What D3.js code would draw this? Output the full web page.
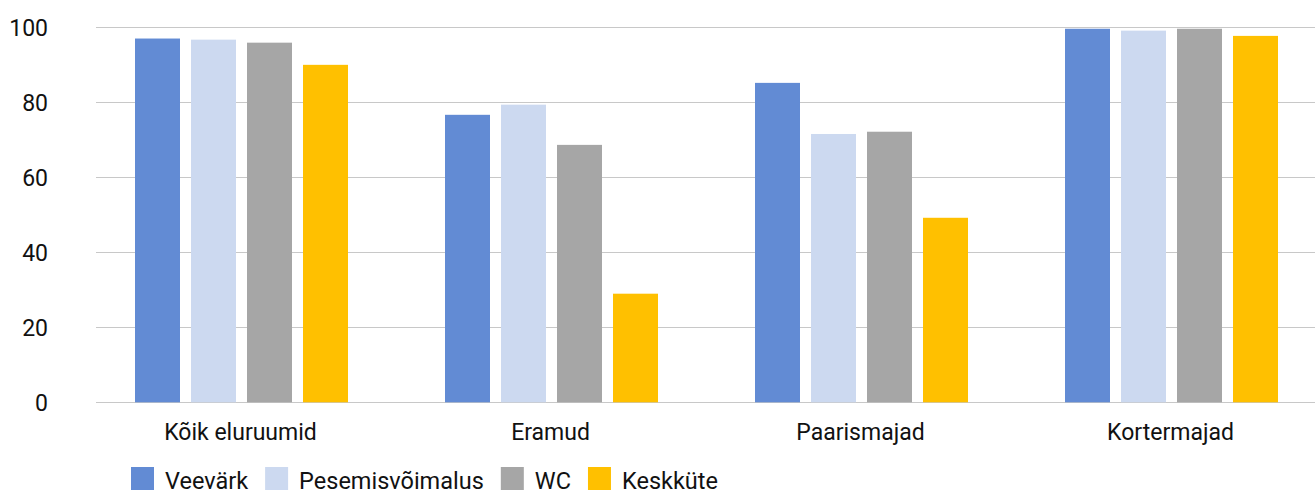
<!DOCTYPE html>
<html><head><meta charset="utf-8">
<script src="https://cdn.jsdelivr.net/npm/d3@7"></script>
<style>body{margin:0;background:#fff;}svg{display:block;font-family:Roboto,"Noto Sans",sans-serif;}</style>
</head><body>
<svg id="c" width="1315" height="493"></svg>
<script>
const categories = ["Kõik eluruumid","Eramud","Paarismajad","Kortermajad"];
const seriesNames = ["Veevärk","Pesemisvõimalus","WC","Keskküte"];
const veevark = [96.8, 76.5, 85.0, 99.4];
const pesemis = [96.5, 79.2, 71.4, 98.9];
const wc = [95.7, 68.5, 72.0, 99.4];
const keskkute = [89.8, 28.9, 49.1, 97.5];
const yTicks = [0,20,40,60,80,100];
const colors = ["#628bd4","#ccd9f0","#a6a6a6","#ffc000"];

const series = [veevark, pesemis, wc, keskkute];
const svg = d3.select("#c");
const y = d3.scaleLinear().domain([0,100]).range([402.3,26.5]);
const x0 = d3.scaleBand().domain(categories).range([86.5,1326.5]);
const x1 = d3.scaleBand().domain(seriesNames).range([0,213]).paddingInner(11/56).paddingOuter(0);
const gridL = 96, gridR = 1315;

// grid
svg.append("g").selectAll("line").data(yTicks).join("line")
  .attr("x1",gridL).attr("x2",gridR)
  .attr("y1",d=>Math.round(y(d))+0.5).attr("y2",d=>Math.round(y(d))+0.5)
  .attr("stroke","#c8c8c8").attr("stroke-width",1.2);

// y labels
svg.append("g").selectAll("text").data(yTicks).join("text")
  .attr("x",48).attr("y",d=>y(d)+1).attr("dy","0.35em")
  .attr("text-anchor","end").attr("font-size",23).attr("fill","#111")
  .text(d=>d);

// bars
const g = svg.append("g");
categories.forEach((c,ci)=>{
  const cx = x0(c) + x0.bandwidth()/2 - 106.5;
  seriesNames.forEach((s,si)=>{
    const v = series[si][ci];
    g.append("rect")
      .attr("x", cx + x1(s)).attr("width", x1.bandwidth())
      .attr("y", y(v)).attr("height", y(0)-y(v))
      .attr("fill", colors[si]);
  });
});

// x labels
svg.append("g").selectAll("text").data(categories).join("text")
  .attr("x",d=>x0(d)+x0.bandwidth()/2 - 1).attr("y",432).attr("dy","0.35em")
  .attr("text-anchor","middle").attr("font-size",23).attr("fill","#111")
  .text(d=>d);

// legend
const lg = svg.append("g");
let lx = 131;
seriesNames.forEach((s,i)=>{
  lg.append("rect").attr("x",lx).attr("y",467).attr("width",23).attr("height",23).attr("fill",colors[i]);
  const t = lg.append("text").attr("x",lx+34).attr("y",489)
    .attr("font-size",23.5).attr("fill","#111").text(s);
  lx = lx + 34 + t.node().getComputedTextLength() + 17;
});
</script>
</body></html>
